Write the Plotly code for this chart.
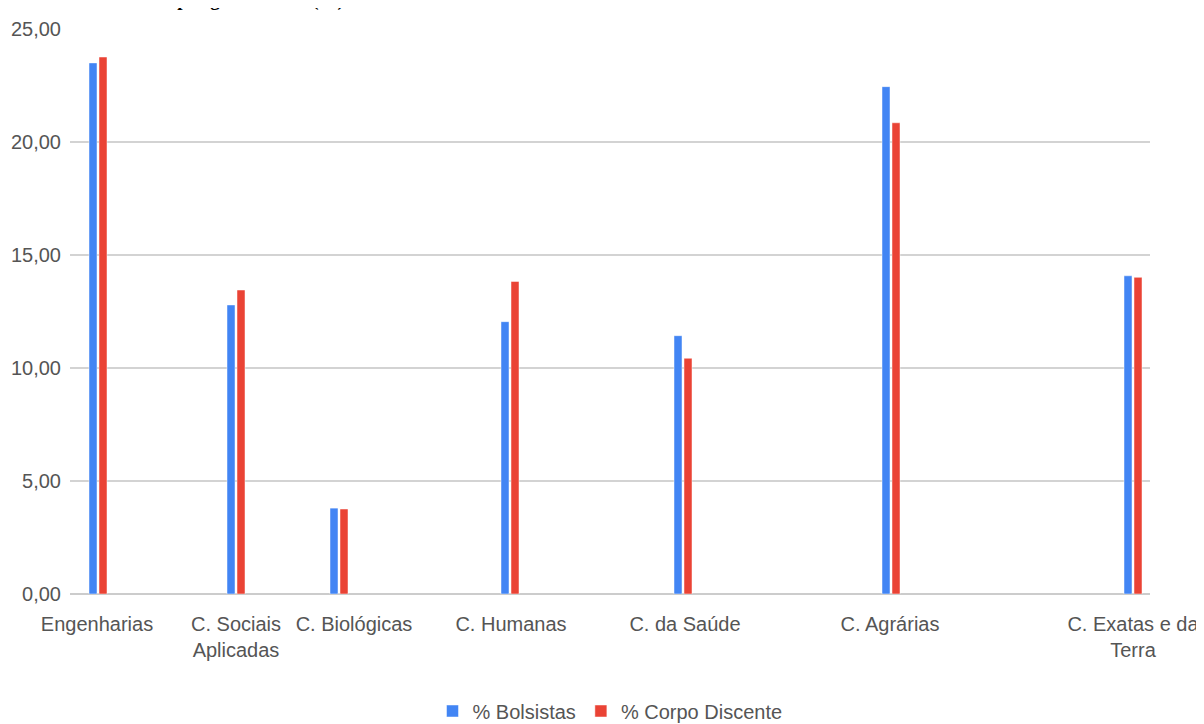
import plotly.graph_objects as go

categories = ["Engenharias", "C. Sociais<br>Aplicadas", "C. Biológicas", "C. Humanas",
              "C. da Saúde", "C. Agrárias", "C. Exatas e da<br>Terra"]
bolsistas = [23.50, 12.79, 3.80, 12.05, 11.43, 22.45, 14.08]
corpo_discente = [23.76, 13.45, 3.76, 13.83, 10.43, 20.85, 14.01]
series_names = ["% Bolsistas", "% Corpo Discente"]

# layout: group centres and label centres along the axis (axis span 0..1080)
group_pos = [28, 166, 269, 440, 613, 821, 1063]
label_pos = [27, 166, 284, 441, 615, 820, 1063]

BLUE = "#4285F4"
RED = "#EA4335"
FONT = "Liberation Sans, Arial, sans-serif"
TXT = "#555555"

fig = go.Figure()
fig.add_trace(go.Bar(x=group_pos, y=bolsistas, name=series_names[0], width=8, offset=-9,
                     marker=dict(color=BLUE, line=dict(color="rgba(255,255,255,0.6)", width=0.8))))
fig.add_trace(go.Bar(x=group_pos, y=corpo_discente, name=series_names[1], width=8, offset=1,
                     marker=dict(color=RED, line=dict(color="rgba(255,255,255,0.6)", width=0.8))))

W, H = 1196, 716
T, B, L, R = 21, 130, 62, 54
plot_h = H - T - B
plot_w = W - L - R

fig.update_layout(
    width=W, height=H,
    margin=dict(l=L, r=R, t=T, b=B, autoexpand=False),
    paper_bgcolor="white", plot_bgcolor="white",
    separators=",.",
    barmode="group",
    font=dict(family=FONT, size=20, color=TXT),
    showlegend=True,
    legend=dict(orientation="h", x=0.5, xanchor="center",
                y=-(703 - T - plot_h) / plot_h, yanchor="middle",
                font=dict(size=20, color=TXT), traceorder="normal"),
    xaxis=dict(range=[0, 1080], tickmode="array", tickvals=label_pos, ticktext=categories,
               showgrid=False, zeroline=False, showline=False, ticks="", ticklabelstandoff=16,
               tickfont=dict(size=20, color=TXT)),
    yaxis=dict(range=[0, 25], tickmode="array", tickvals=[0, 5, 10, 15, 20, 25],
               tickformat=".2f", showgrid=True, gridcolor="#D3D3D3", gridwidth=1.6,
               zeroline=True, zerolinecolor="#CCCCCC", zerolinewidth=1.6, showline=False,
               ticks="", ticklabelstandoff=8, tickfont=dict(size=20, color=TXT)),
    annotations=[dict(text="<b>Alunos e bolsistas por grande área (%)</b>",
                      xref="paper", yref="paper", x=(20 - L) / plot_w, xanchor="left",
                      y=1 + (T - 4) / plot_h, yanchor="bottom", showarrow=False, borderpad=0,
                      font=dict(family="Liberation Serif, Times New Roman, serif", size=19,
                                color="#000000"))],
)

fig.write_html("out.html")
